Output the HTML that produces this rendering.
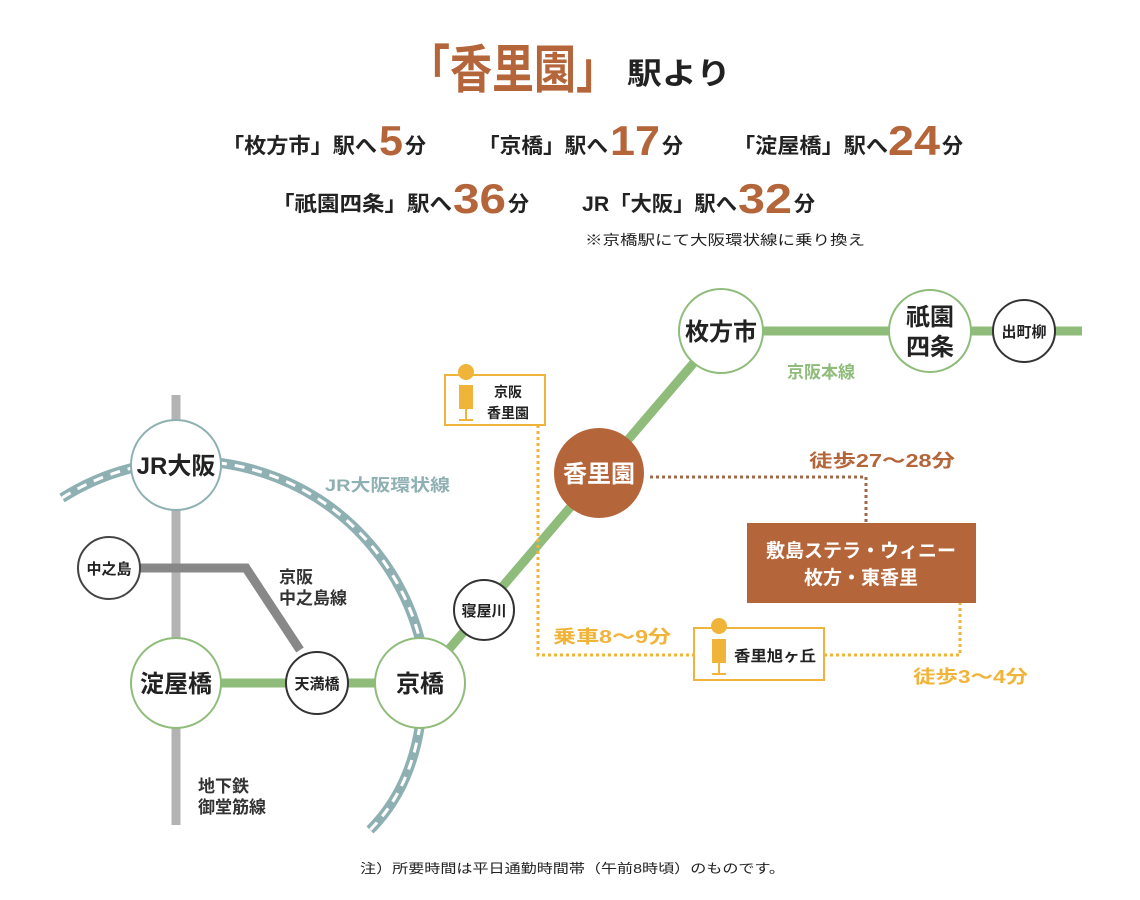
<!DOCTYPE html>
<html><head><meta charset="utf-8"><style>
html,body{margin:0;padding:0;background:#fff;}
svg{display:block;font-family:"Liberation Sans","Noto Sans CJK JP",sans-serif;font-weight:bold;}
</style></head><body>
<svg width="1140" height="900" viewBox="0 0 1140 900" xmlns="http://www.w3.org/2000/svg">
<!-- Title -->
<text x="408" y="88" font-size="52" fill="#b5653a" textLength="210" lengthAdjust="spacingAndGlyphs">「香里園」</text>
<text x="627" y="84" font-size="30" fill="#222" textLength="104" lengthAdjust="spacingAndGlyphs">駅より</text>

<g fill="#222" font-size="21">
<text x="222" y="153" textLength="155" lengthAdjust="spacingAndGlyphs">「枚方市」駅へ</text>
<text x="405" y="153">分</text>
<text x="478" y="153" textLength="130" lengthAdjust="spacingAndGlyphs">「京橋」駅へ</text>
<text x="662" y="153">分</text>
<text x="733" y="153" textLength="155" lengthAdjust="spacingAndGlyphs">「淀屋橋」駅へ</text>
<text x="942" y="153">分</text>
<text x="272" y="211" textLength="180" lengthAdjust="spacingAndGlyphs">「祇園四条」駅へ</text>
<text x="508" y="211">分</text>
<text x="582" y="211" textLength="155" lengthAdjust="spacingAndGlyphs">JR「大阪」駅へ</text>
<text x="794" y="211">分</text>
</g>
<g fill="#b5653a" font-size="42">
<text x="379" y="155" textLength="24" lengthAdjust="spacingAndGlyphs">5</text>
<text x="610" y="155" textLength="50" lengthAdjust="spacingAndGlyphs">17</text>
<text x="888" y="155" textLength="52" lengthAdjust="spacingAndGlyphs">24</text>
<text x="453" y="213" textLength="53" lengthAdjust="spacingAndGlyphs">36</text>
<text x="738" y="213" textLength="54" lengthAdjust="spacingAndGlyphs">32</text>
</g>
<text x="585" y="245" font-size="14" font-weight="normal" fill="#222" textLength="280" lengthAdjust="spacingAndGlyphs">※京橋駅にて大阪環状線に乗り換え</text>

<!-- Lines -->
<line x1="176" y1="395" x2="176" y2="825" stroke="#b3b3b3" stroke-width="9"/>
<polyline points="140,568 246,568 300,650" fill="none" stroke="#888" stroke-width="9"/>
<!-- JR loop -->
<path d="M62,498 A238 238 0 0 1 420,640" fill="none" stroke="#8fb0b3" stroke-width="10"/>
<path d="M62,498 A238 238 0 0 1 420,640" fill="none" stroke="#fff" stroke-width="3" stroke-dasharray="10 8"/>
<path d="M420,725 Q410,790 370,830" fill="none" stroke="#8fb0b3" stroke-width="10"/>
<path d="M420,725 Q410,790 370,830" fill="none" stroke="#fff" stroke-width="3" stroke-dasharray="10 8"/>
<!-- green -->
<g stroke="#8fbc7a" stroke-width="9" fill="none">
<line x1="176" y1="683" x2="420" y2="683"/>
<line x1="420" y1="683" x2="721" y2="331"/>
<line x1="721" y1="331" x2="1082" y2="331"/>
</g>

<!-- dotted connectors -->
<polyline points="650,477 866,477 866,523" fill="none" stroke="#a0694a" stroke-width="3" stroke-dasharray="3 3"/>
<polyline points="538,425 538,655 694,655" fill="none" stroke="#f0b43a" stroke-width="3" stroke-dasharray="3 3"/>
<polyline points="824,655 960,655 960,603" fill="none" stroke="#f0b43a" stroke-width="3" stroke-dasharray="3 3"/>

<!-- Stations -->
<g stroke-width="2" fill="#fff">
<circle cx="176" cy="465" r="45" stroke="#8fb0b3"/>
<circle cx="109" cy="568" r="31" stroke="#444"/>
<circle cx="176" cy="683" r="45" stroke="#8fbc7a"/>
<circle cx="317" cy="683" r="31" stroke="#333"/>
<circle cx="420" cy="683" r="45" stroke="#8fbc7a"/>
<circle cx="484" cy="610" r="30" stroke="#333"/>
<circle cx="721" cy="331" r="42" stroke="#8fbc7a"/>
<circle cx="930" cy="331" r="41" stroke="#8fbc7a"/>
<circle cx="1024" cy="331" r="31" stroke="#333"/>
</g>
<circle cx="599" cy="473" r="45" fill="#b5653a"/>

<g fill="#222" text-anchor="middle">
<text x="176" y="474" font-size="24">JR大阪</text>
<text x="109" y="574" font-size="15">中之島</text>
<text x="176" y="692" font-size="24">淀屋橋</text>
<text x="317" y="689" font-size="15">天満橋</text>
<text x="420" y="692" font-size="24">京橋</text>
<text x="484" y="616" font-size="15">寝屋川</text>
<text x="721" y="340" font-size="24">枚方市</text>
<text x="930" y="325" font-size="24">祇園</text>
<text x="930" y="355" font-size="24">四条</text>
<text x="1024" y="337" font-size="15">出町柳</text>
</g>
<text x="599" y="482" font-size="24" fill="#fff" text-anchor="middle">香里園</text>

<!-- Line labels -->
<text x="325" y="491" font-size="17" fill="#8fb0b3" textLength="125" lengthAdjust="spacingAndGlyphs">JR大阪環状線</text>
<text x="279" y="583" font-size="17" fill="#333">京阪</text>
<text x="279" y="604" font-size="17" fill="#333">中之島線</text>
<text x="198" y="792" font-size="17" fill="#333">地下鉄</text>
<text x="198" y="813" font-size="17" fill="#333">御堂筋線</text>
<text x="787" y="378" font-size="17" fill="#8fbc7a">京阪本線</text>
<text x="809" y="467" font-size="18" fill="#b5653a" textLength="146" lengthAdjust="spacingAndGlyphs">徒歩27～28分</text>
<text x="553" y="643" font-size="18" fill="#f0b43a" textLength="118" lengthAdjust="spacingAndGlyphs">乗車8～9分</text>
<text x="913" y="683" font-size="18" fill="#f0b43a" textLength="115" lengthAdjust="spacingAndGlyphs">徒歩3～4分</text>

<!-- Destination box -->
<rect x="747" y="523" width="229" height="80" fill="#b5653a"/>
<text x="861" y="557" font-size="19" fill="#fff" text-anchor="middle">敷島ステラ・ウィニー</text>
<text x="861" y="584" font-size="19" fill="#fff" text-anchor="middle">枚方・東香里</text>

<!-- Bus stop boxes -->
<rect x="445" y="375" width="100" height="50" fill="#fff" stroke="#f0b43a" stroke-width="2"/>
<circle cx="466" cy="372" r="8" fill="#f0b43a"/>
<rect x="459" y="385" width="14" height="24" fill="#f0b43a"/>
<line x1="466" y1="409" x2="466" y2="420" stroke="#f0b43a" stroke-width="2"/>
<line x1="459" y1="420" x2="473" y2="420" stroke="#f0b43a" stroke-width="2"/>
<text x="508" y="397" font-size="14" fill="#222" text-anchor="middle">京阪</text>
<text x="508" y="418" font-size="14" fill="#222" text-anchor="middle">香里園</text>

<rect x="694" y="628" width="130" height="52" fill="#fff" stroke="#f0b43a" stroke-width="2"/>
<circle cx="719" cy="626" r="8" fill="#f0b43a"/>
<rect x="712" y="639" width="14" height="24" fill="#f0b43a"/>
<line x1="719" y1="663" x2="719" y2="674" stroke="#f0b43a" stroke-width="2"/>
<line x1="712" y1="674" x2="726" y2="674" stroke="#f0b43a" stroke-width="2"/>
<text x="734" y="661" font-size="15" fill="#222" textLength="82" lengthAdjust="spacingAndGlyphs">香里旭ヶ丘</text>

<text x="360" y="873" font-size="13" font-weight="normal" fill="#222" textLength="425" lengthAdjust="spacingAndGlyphs">注）所要時間は平日通勤時間帯（午前8時頃）のものです。</text>
</svg>
</body></html>
